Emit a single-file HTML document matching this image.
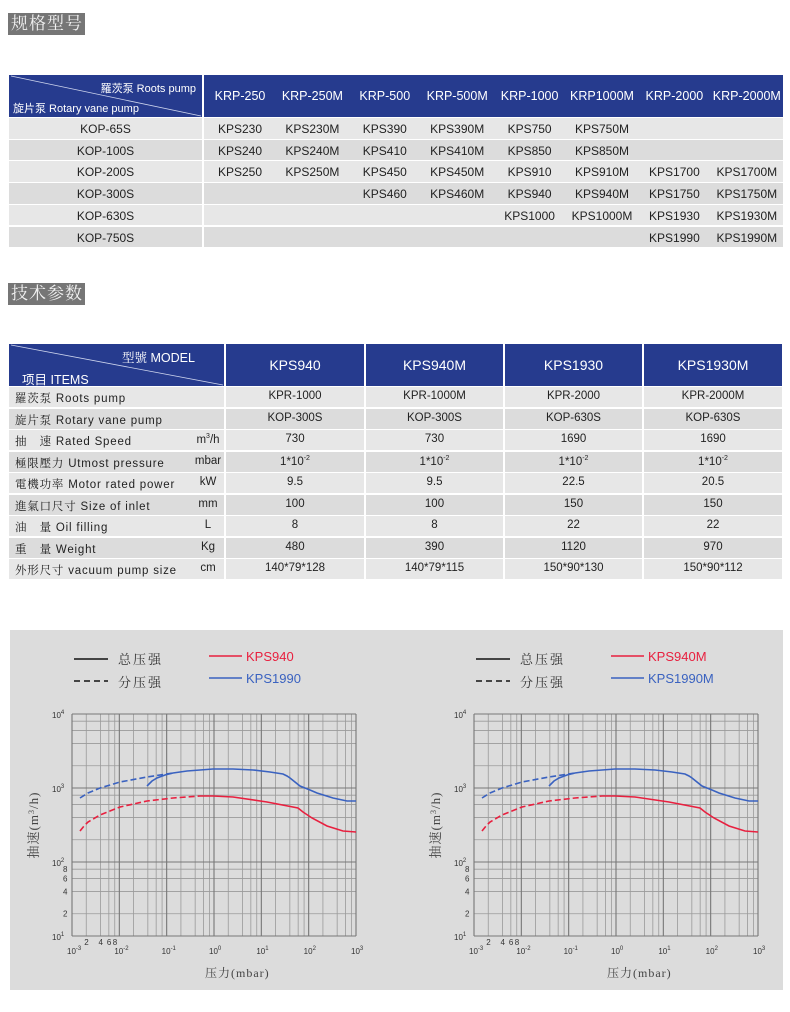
<!DOCTYPE html>
<html><head><meta charset="utf-8">
<style>
body{margin:0;background:#fff;width:790px;height:1012px;position:relative;overflow:hidden;font-family:"Liberation Sans","Noto Sans CJK SC",sans-serif;}
.ttl{position:absolute;left:8px;width:77px;height:22px;background:#767676;color:#f2f2f2;font-family:"Liberation Serif","Noto Serif CJK SC",serif;font-size:17px;line-height:22px;letter-spacing:1px;text-indent:3px;white-space:nowrap;overflow:hidden;}
.a{position:absolute;}
.hd{position:absolute;background:#263b8e;color:#fff;}
.c{position:absolute;text-align:center;font-size:12px;color:#222;}
</style></head><body>
<div class="ttl" style="top:13px">规格型号</div>
<div class="ttl" style="top:283px">技术参数</div>
<div id="t1"></div>
<svg id="ch" class="a" style="left:0;top:0" width="790" height="1012"></svg>
<script>
var h='';
h+='<div class="hd" style="left:9px;top:75px;width:193px;height:42px"><svg width="193" height="42" style="position:absolute;left:0;top:0"><line x1="2" y1="1" x2="192" y2="41" stroke="#cfd6ee" stroke-width="0.8"/></svg><div class="a" style="right:6px;top:5px;font-size:11px">羅茨泵 Roots pump</div><div class="a" style="left:4px;top:25px;font-size:11px">旋片泵 Rotary vane pump</div></div>';
h+='<div class="hd" style="left:204px;top:75px;width:579px;height:42px"></div>';
var k=['KRP-250','KRP-250M','KRP-500','KRP-500M','KRP-1000','KRP1000M','KRP-2000','KRP-2000M'];
for(var i=0;i<8;i++)h+='<div class="c" style="left:'+(204+i*72.4)+'px;top:89px;width:72px;color:#fff;font-size:12.5px">'+k[i]+'</div>';
var r=[['KOP-65S','KPS230','KPS230M','KPS390','KPS390M','KPS750','KPS750M','',''],
['KOP-100S','KPS240','KPS240M','KPS410','KPS410M','KPS850','KPS850M','',''],
['KOP-200S','KPS250','KPS250M','KPS450','KPS450M','KPS910','KPS910M','KPS1700','KPS1700M'],
['KOP-300S','','','KPS460','KPS460M','KPS940','KPS940M','KPS1750','KPS1750M'],
['KOP-630S','','','','','KPS1000','KPS1000M','KPS1930','KPS1930M'],
['KOP-750S','','','','','','','KPS1990','KPS1990M']];
for(var j=0;j<6;j++){var y=118+j*21.7,bg=j%2?'#dcdcdc':'#e7e7e7';
h+='<div class="a" style="left:9px;top:'+y+'px;width:193px;height:20.5px;background:'+bg+'"></div><div class="a" style="left:204px;top:'+y+'px;width:579px;height:20.5px;background:'+bg+'"></div>';
h+='<div class="c" style="left:9px;top:'+(y+4)+'px;width:193px">'+r[j][0]+'</div>';
for(var i=0;i<8;i++)h+='<div class="c" style="left:'+(204+i*72.4)+'px;top:'+(y+4)+'px;width:72px">'+r[j][i+1]+'</div>';}
h+='<div class="hd" style="left:9px;top:344px;width:215px;height:42px"><svg width="215" height="42" style="position:absolute;left:0;top:0"><line x1="2" y1="1" x2="214" y2="41" stroke="#cfd6ee" stroke-width="0.8"/></svg><div class="a" style="left:113px;top:4px;font-size:12.5px;font-family:\'Liberation Sans\',\'Noto Serif CJK SC\',sans-serif">型號 MODEL</div><div class="a" style="left:13px;top:25px;font-size:12.5px">项目 ITEMS</div></div>';
var cx=[226,366,505,644],cw=[138,137,137,138],m=['KPS940','KPS940M','KPS1930','KPS1930M'];
for(var i=0;i<4;i++)h+='<div class="hd" style="left:'+cx[i]+'px;top:344px;width:'+cw[i]+'px;height:42px"><div class="c" style="left:0;width:100%;top:13px;color:#fff;font-size:14px">'+m[i]+'</div></div>';
var R=[['羅茨泵 Roots pump','','KPR-1000','KPR-1000M','KPR-2000','KPR-2000M'],
['旋片泵 Rotary vane pump','','KOP-300S','KOP-300S','KOP-630S','KOP-630S'],
['抽　速 Rated Speed','m<sup style="font-size:7px">3</sup>/h','730','730','1690','1690'],
['極限壓力 Utmost pressure','mbar','1*10<sup style="font-size:7px">-2</sup>','1*10<sup style="font-size:7px">-2</sup>','1*10<sup style="font-size:7px">-2</sup>','1*10<sup style="font-size:7px">-2</sup>'],
['電機功率 Motor rated power','kW','9.5','9.5','22.5','20.5'],
['進氣口尺寸 Size of inlet','mm','100','100','150','150'],
['油　量 Oil filling','L','8','8','22','22'],
['重　量 Weight','Kg','480','390','1120','970'],
['外形尺寸 vacuum pump size','cm','140*79*128','140*79*115','150*90*130','150*90*112']];
for(var j=0;j<9;j++){var y=387+j*21.5,bg=j%2?'#dcdcdc':'#e7e7e7';
h+='<div class="a" style="left:9px;top:'+y+'px;width:215px;height:20.3px;background:'+bg+'"></div>';
h+='<div class="a" style="left:15px;top:'+(y+3)+'px;font-size:11.5px;color:#222;letter-spacing:0.8px;white-space:nowrap;font-family:\'Liberation Sans\',\'Noto Serif CJK SC\',sans-serif">'+R[j][0]+'</div>';
h+='<div class="c" style="left:190px;top:'+(y+3)+'px;width:36px;font-size:11.5px">'+R[j][1]+'</div>';
for(var i=0;i<4;i++)h+='<div class="a" style="left:'+cx[i]+'px;top:'+y+'px;width:'+cw[i]+'px;height:20.3px;background:'+bg+'"></div><div class="c" style="left:'+cx[i]+'px;top:'+(y+3)+'px;width:'+cw[i]+'px;font-size:11.5px">'+R[j][i+2]+'</div>';}
document.getElementById('t1').innerHTML=h;
var s='<rect x="10" y="630" width="773" height="360" fill="#dcdcdc"/>';
function L(v){return Math.log10(v);}
function chart(ox,n1,n2){
 var x0=ox,x1=ox+284,y0=714,y1=936,dx=(x1-x0)/6,dy=(y1-y0)/3;
 s+='<g stroke="#9a9a9a" stroke-width="0.8">';
 for(var d=0;d<6;d++)[2,4,6,8].forEach(function(k){var x=x0+(d+L(k))*dx;s+='<line x1="'+x+'" y1="'+y0+'" x2="'+x+'" y2="'+y1+'"/>';});
 for(var d=0;d<3;d++)[2,4,6,8].forEach(function(k){var y=y1-(d+L(k))*dy;s+='<line x1="'+x0+'" y1="'+y+'" x2="'+x1+'" y2="'+y+'"/>';});
 s+='</g><g stroke="#777" stroke-width="1.1">';
 for(var d=0;d<=6;d++){var x=x0+d*dx;s+='<line x1="'+x+'" y1="'+y0+'" x2="'+x+'" y2="'+y1+'"/>';}
 for(var d=0;d<=3;d++){var y=y1-d*dy;s+='<line x1="'+x0+'" y1="'+y+'" x2="'+x1+'" y2="'+y+'"/>';}
 s+='</g><g font-family="Liberation Sans" font-size="8" fill="#333">';
 for(var d=0;d<=3;d++){var y=y1-d*dy;s+='<text x="'+(x0-20)+'" y="'+(y+4)+'">10<tspan font-size="6" dy="-4">'+(d+1)+'</tspan></text>';}
 [2,4,6,8].forEach(function(k){var y=y1-L(k)*dy;s+='<text x="'+(x0-9)+'" y="'+(y+3)+'">'+k+'</text>';});
 var xe=['-3','-2','-1','0','1','2','3'];
 for(var d=0;d<=6;d++){var x=x0+d*dx;s+='<text x="'+(x-5)+'" y="954">10<tspan font-size="6" dy="-4">'+xe[d]+'</tspan></text>';}
 [2,4,6,8].forEach(function(k){var x=x0+L(k)*dx;s+='<text x="'+(x-2)+'" y="945">'+k+'</text>';});
 s+='</g>';
 s+='<text transform="translate('+(x0-34)+',825) rotate(-90)" text-anchor="middle" font-family="Liberation Serif,Noto Serif CJK SC,serif" font-size="13" fill="#444" letter-spacing="1">抽速(m<tspan font-size="8" dy="-4">3</tspan><tspan dy="4">/h)</tspan></text>';
 s+='<text x="'+(x0+133)+'" y="977" font-family="Liberation Serif,Noto Serif CJK SC,serif" font-size="12" fill="#444" letter-spacing="1">压力(mbar)</text>';
 var lx=ox+2;
 s+='<line x1="'+lx+'" y1="659" x2="'+(lx+34)+'" y2="659" stroke="#111" stroke-width="1.6"/><line x1="'+lx+'" y1="681" x2="'+(lx+34)+'" y2="681" stroke="#111" stroke-width="1.6" stroke-dasharray="6,4"/>';
 s+='<text x="'+(lx+44)+'" y="664" font-family="Noto Serif CJK SC,serif" font-size="13" fill="#333" letter-spacing="2">总压强</text><text x="'+(lx+44)+'" y="687" font-family="Noto Serif CJK SC,serif" font-size="13" fill="#333" letter-spacing="2">分压强</text>';
 s+='<line x1="'+(lx+135)+'" y1="656" x2="'+(lx+168)+'" y2="656" stroke="#e8203f" stroke-width="1.6"/><line x1="'+(lx+135)+'" y1="678" x2="'+(lx+168)+'" y2="678" stroke="#3a62c0" stroke-width="1.6"/>';
 s+='<text x="'+(lx+172)+'" y="661" font-family="Liberation Sans" font-size="13" fill="#e8203f">'+n1+'</text><text x="'+(lx+172)+'" y="683" font-family="Liberation Sans" font-size="13" fill="#3a62c0">'+n2+'</text>';
 var o=ox-72;
 function P(a){return a.map(function(p){return (p[0]+o)+','+p[1];}).join(' ');}
 s+='<polyline fill="none" stroke="#3a62c0" stroke-width="1.6" stroke-dasharray="6,3" points="'+P([[80,798],[88,793],[100,788],[120,782],[147,777],[173,773]])+'"/>';
 s+='<polyline fill="none" stroke="#3a62c0" stroke-width="1.6" points="'+P([[147,786],[152,781],[157,778],[165,775],[173,773],[187,771],[213,769],[233,769],[253,770],[270,772],[283,774],[287,776],[290,778],[300,786],[310,790],[317,793],[333,798],[347,801],[356,801]])+'"/>';
 s+='<polyline fill="none" stroke="#e8203f" stroke-width="1.6" stroke-dasharray="6,3" points="'+P([[80,831],[84,826],[88,822],[100,815],[120,807],[147,801],[173,798],[200,796]])+'"/>';
 s+='<polyline fill="none" stroke="#e8203f" stroke-width="1.6" points="'+P([[200,796],[213,796],[233,797],[267,802],[298,808],[303,812],[312,818],[327,826],[343,831],[356,832]])+'"/>';
}
chart(72,'KPS940','KPS1990');
chart(474,'KPS940M','KPS1990M');
document.getElementById('ch').innerHTML=s;
</script>
</body></html>
